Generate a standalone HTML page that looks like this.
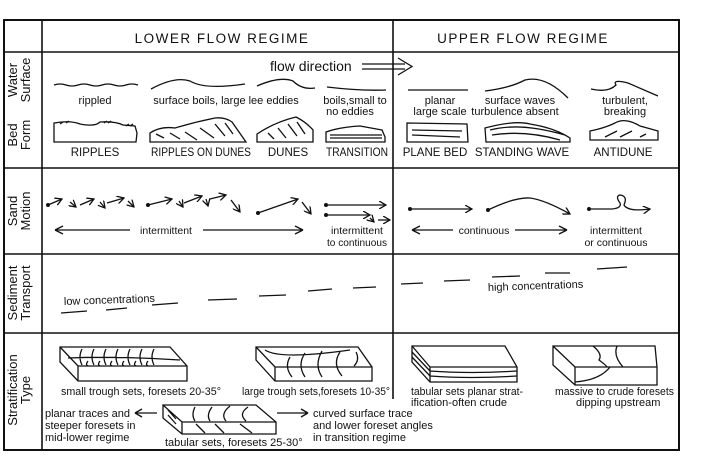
<!DOCTYPE html>
<html><head><meta charset="utf-8"><style>
html,body{margin:0;padding:0;background:#fff}
svg{display:block}
text{font-family:"Liberation Sans",sans-serif;fill:#111}
</style></head><body>
<svg width="707" height="469" viewBox="0 0 707 469" xmlns="http://www.w3.org/2000/svg">
<g stroke="#111" fill="none" stroke-width="1.6">
<rect x="4" y="20" width="675" height="430" stroke-width="2"/>
<line x1="42" y1="20" x2="42" y2="450"/>
<line x1="393" y1="20" x2="393" y2="399"/>
<line x1="4" y1="52" x2="679" y2="52"/>
<line x1="4" y1="168" x2="679" y2="168"/>
<line x1="4" y1="254" x2="679" y2="254"/>
<line x1="4" y1="333" x2="679" y2="333"/>
</g>
<g font-size="13.5" letter-spacing="1.5" text-anchor="middle">
<text x="222" y="43">LOWER FLOW REGIME</text>
<text x="523" y="43">UPPER FLOW REGIME</text>
</g>
<g font-size="13" text-anchor="middle">
<text transform="translate(17,80) rotate(-90)">Water</text>
<text transform="translate(30,80) rotate(-90)">Surface</text>
<text transform="translate(17,135) rotate(-90)">Bed</text>
<text transform="translate(30,135) rotate(-90)">Form</text>
<text transform="translate(17,211) rotate(-90)">Sand</text>
<text transform="translate(30,211) rotate(-90)">Motion</text>
<text transform="translate(17,293) rotate(-90)">Sediment</text>
<text transform="translate(30,293) rotate(-90)">Transport</text>
<text transform="translate(17,390) rotate(-90)">Stratification</text>
<text transform="translate(30,390) rotate(-90)">Type</text>
</g>
<text x="270" y="71" font-size="14">flow direction</text>
<g stroke="#111" fill="none" stroke-width="1.3">
<path d="M362 64 L405 64 M362 69 L405 69 M398 58 L412 66.5 L398 75"/>
</g>
<g stroke="#111" fill="none" stroke-width="1.3">
<path d="M54 85 q6 -2 12 0 t12 0 t12 0 t12 0 t12 0 t12 0 t12 0"/>
<path d="M151 89 Q175 76 190 81 Q205 90 245 84"/>
<path d="M257 86 Q280 76 293 81 Q302 90 315 88"/>
<path d="M327 87 Q360 91 386 90"/>
<path d="M408 90 L468 90"/>
<path d="M485 91 Q510 88 525 80 Q545 75 568 98"/>
<path d="M591 89 Q608 93 616 85 Q612 79 628 83 L658 96"/>
</g>
<g font-size="11" text-anchor="middle">
<text x="95" y="104">rippled</text>
<text x="226" y="104">surface boils, large  lee  eddies</text>
<text x="355" y="104">boils,small to</text>
<text x="350" y="115">no  eddies</text>
<text x="440" y="104">planar</text>
<text x="440" y="115">large scale</text>
<text x="520" y="104">surface  waves</text>
<text x="515" y="115">turbulence absent</text>
<text x="625" y="104">turbulent,</text>
<text x="625" y="115">breaking</text>
</g>
<g stroke="#111" fill="none" stroke-width="1.3">
<path d="M54 142 L54 123 Q70 120 80 124 Q95 127 100 122 Q115 121 123 125 L135 126 L137 133 L136 142 Z"/>
<path d="M60 124 l3 -2 M66 123 l3 -2 M104 123 l3 -2 M108 123 l3 -2 M126 126 l3 -2 M130 126 l3 -2"/>
<path d="M150 142 L150 133 Q160 126 175 128 Q195 122 215 118 Q225 117 232 122 L246 142 Z"/>
<path d="M156 134 l8 4 M170 133 l10 6 M185 132 l12 8 M200 128 l14 10 M215 124 l10 12 M225 123 l8 11"/>
<path d="M257 142 L257 134 Q275 122 296 117 Q306 122 313 130 L313 142 Z"/>
<path d="M268 133 l6 6 M278 128 l8 10 M288 124 l9 12 M297 122 l8 12"/>
<path d="M326 142 L326 132 Q340 127 360 126 L382 130 L385 137 L385 142 Z M330 135 L382 135 M330 138 L382 138"/>
<path d="M407 123 L467 124 L468 142 L407 142 Z M412 130 L462 131 M412 135 L460 137"/>
<path d="M486 142 L485 128 Q515 120 530 124 Q555 128 570 138 L570 142 Z M490 130 Q520 122 565 135 M492 135 Q525 130 560 140"/>
<path d="M590 140 L590 131 Q605 128 615 123 Q625 117 640 126 L658 131 L658 140 Z M605 137 l12 -6 M620 137 l12 -6 M640 137 l6 -3"/>
</g>
<g font-size="11.5" text-anchor="middle">
<text x="95" y="156">RIPPLES</text>
<text x="201" y="156" textLength="100" lengthAdjust="spacingAndGlyphs">RIPPLES ON DUNES</text>
<text x="288" y="156">DUNES</text>
<text x="357" y="156" textLength="62" lengthAdjust="spacingAndGlyphs">TRANSITION</text>
<text x="435" y="156">PLANE BED</text>
<text x="522" y="156">STANDING WAVE</text>
<text x="623" y="156">ANTIDUNE</text>
</g>
<defs><marker id="a" markerWidth="8" markerHeight="8" refX="7" refY="4" orient="auto" markerUnits="userSpaceOnUse"><path d="M0 0 L7 4 L0 8" fill="none" stroke="#111" stroke-width="1.3"/></marker></defs>
<g stroke="#111" fill="none" stroke-width="1.3" marker-end="url(#a)">
<path d="M48 205 L62 199"/><path d="M70 202 L76 207"/><path d="M80 205 L94 199"/><path d="M100 202 L105 208"/><path d="M107 203 L124 198"/><path d="M128 201 L134 207"/>
<path d="M148 205 L172 199"/><path d="M179 201 L183 207"/><path d="M184 203 L202 196"/><path d="M206 199 L208 206"/><path d="M210 199 L226 195"/><path d="M231 200 L240 212"/>
<path d="M258 213 L298 199"/><path d="M302 202 L311 214"/>
<path d="M326 205 L386 205"/><path d="M326 215 L370 215"/><path d="M370 218 L374 222"/><path d="M378 220 L390 220"/>
<path d="M410 209 L472 209"/>
<path d="M488 210 Q515 197 530 198 Q545 200 570 214"/>
<path d="M589 209 L612 209 Q622 208 620 203 Q615 196 620 195 Q628 196 624 205 Q628 212 650 209"/>
</g>
<g fill="#111">
<circle cx="48" cy="205" r="2"/><circle cx="148" cy="205" r="2"/><circle cx="258" cy="213" r="2"/><circle cx="326" cy="205" r="2"/><circle cx="326" cy="215" r="2"/><circle cx="410" cy="209" r="2"/><circle cx="488" cy="210" r="2"/><circle cx="589" cy="209" r="2"/>
</g>
<g stroke="#111" fill="none" stroke-width="1.3">
<path d="M55 230 L130 230 M55 230 l8 -4 M55 230 l8 4"/>
<path d="M203 230 L303 230 M303 230 l-8 -4 M303 230 l-8 4"/>
<path d="M412 230 L453 230 M412 230 l8 -4 M412 230 l8 4"/>
<path d="M515 230 L567 230 M567 230 l-8 -4 M567 230 l-8 4"/>
</g>
<g font-size="10.5" text-anchor="middle">
<text x="166" y="234">intermittent</text>
<text x="357" y="234">intermittent</text>
<text x="357" y="246" textLength="60" lengthAdjust="spacingAndGlyphs">to continuous</text>
<text x="484" y="234">continuous</text>
<text x="616" y="234">intermittent</text>
<text x="616" y="246">or continuous</text>
</g>
<g stroke="#111" stroke-width="1.3">
<path d="M61 313 L87 311 M106 310 L127 308 M152 305 L178 303 M208 300 L237 299 M259 296 L286 295 M308 291 L332 289 M353 288 L376 287 M401 284 L423 283 M444 281 L470 280 M492 277 L520 276 M545 273 L570 273 M597 269 L627 267"/>
</g>
<text x="64" y="305" font-size="11" transform="rotate(-2 64 305)">low   concentrations</text>
<text x="488" y="291" font-size="11" transform="rotate(-2 488 291)">high    concentrations</text>
<g stroke="#111" fill="#fff" stroke-width="1.3">
<path d="M60 347 L170 347 L187 366 L187 381 L78 381 L60 362 Z"/>
<path d="M60 347 L78 366 L187 366 M78 366 L78 381" fill="none"/>
<path d="M82 349 q-4 8 0 16 M94 349 q-4 8 0 16 M106 349 q-4 8 0 16 M118 349 q-4 8 0 16 M130 349 q-4 8 0 16 M142 349 q-4 8 0 16 M154 349 q-4 8 0 16 M68 358 Q120 356 180 360 M88 361 q-3 4 0 5 M100 361 q-3 4 0 5 M112 361 q-3 4 0 5 M124 361 q-3 4 0 5 M136 361 q-3 4 0 5 M148 361 q-3 4 0 5" fill="none"/>
<path d="M256 347 L358 347 L372 367 L372 381 L275 381 L256 360 Z"/>
<path d="M256 347 L275 367 L372 367 M275 367 L275 381 M265 350 Q280 360 350 350 M290 357 q-6 10 2 20 M305 353 q-8 12 0 24 M322 351 q-8 14 0 26 M340 352 q-8 12 2 24 M356 352 q4 8 -2 14" fill="none"/>
<path d="M163 405 L256 405 L276 422 L276 434 L182 434 L163 418 Z"/>
<path d="M163 405 L182 422 L276 422 M182 422 L182 434 M168 410 l8 9 M168 415 l8 9 M195 407 q-4 8 0 14 M212 407 q-6 8 -2 14 M230 406 q-10 8 -4 15 M248 407 q-10 7 -2 14 M196 424 l9 9 M215 424 l9 9 M240 424 l12 9" fill="none"/>
<path d="M412 346 L505 346 L517 367 L517 382 L430 382 L412 362 Z"/>
<path d="M412 346 L430 367 L517 367 M430 367 L430 382 M412 352 L430 371 q40 3 87 0 M412 357 L430 376 q40 3 87 0" fill="none"/>
<path d="M553 346 L655 346 L657 367 L657 385 L575 385 L553 365 Z"/>
<path d="M553 346 L575 367 L657 367 M575 367 L575 385 M593 346 q10 8 6 14 q8 6 8 7 M617 346 q-4 10 6 21 M575 382 Q600 380 610 367" fill="none"/>
</g>
<g font-size="11">
<text x="61" y="395" textLength="160" lengthAdjust="spacingAndGlyphs">small trough sets, foresets 20-35°</text>
<text x="242" y="395" textLength="148" lengthAdjust="spacingAndGlyphs">large trough sets,foresets 10-35°</text>
<text x="411" y="395" textLength="112" lengthAdjust="spacingAndGlyphs">tabular sets planar strat-</text>
<text x="411" y="406">ification-often crude</text>
<text x="555" y="395" textLength="119" lengthAdjust="spacingAndGlyphs">massive to crude foresets</text>
<text x="576" y="406">dipping upstream</text>
<text x="45" y="417">planar traces and</text>
<text x="45" y="429">steeper foresets in</text>
<text x="45" y="441">mid-lower regime</text>
<text x="313" y="417">curved surface trace</text>
<text x="313" y="429">and lower foreset angles</text>
<text x="313" y="441">in transition regime</text>
<text x="165" y="446">tabular sets, foresets 25-30°</text>
</g>
<g stroke="#111" fill="none" stroke-width="1.3">
<path d="M135 413 L157 413 M135 413 l7 -4 M135 413 l7 4"/>
<path d="M277 413 L308 413 M308 413 l-7 -4 M308 413 l-7 4"/>
</g>
</svg>
</body></html>
